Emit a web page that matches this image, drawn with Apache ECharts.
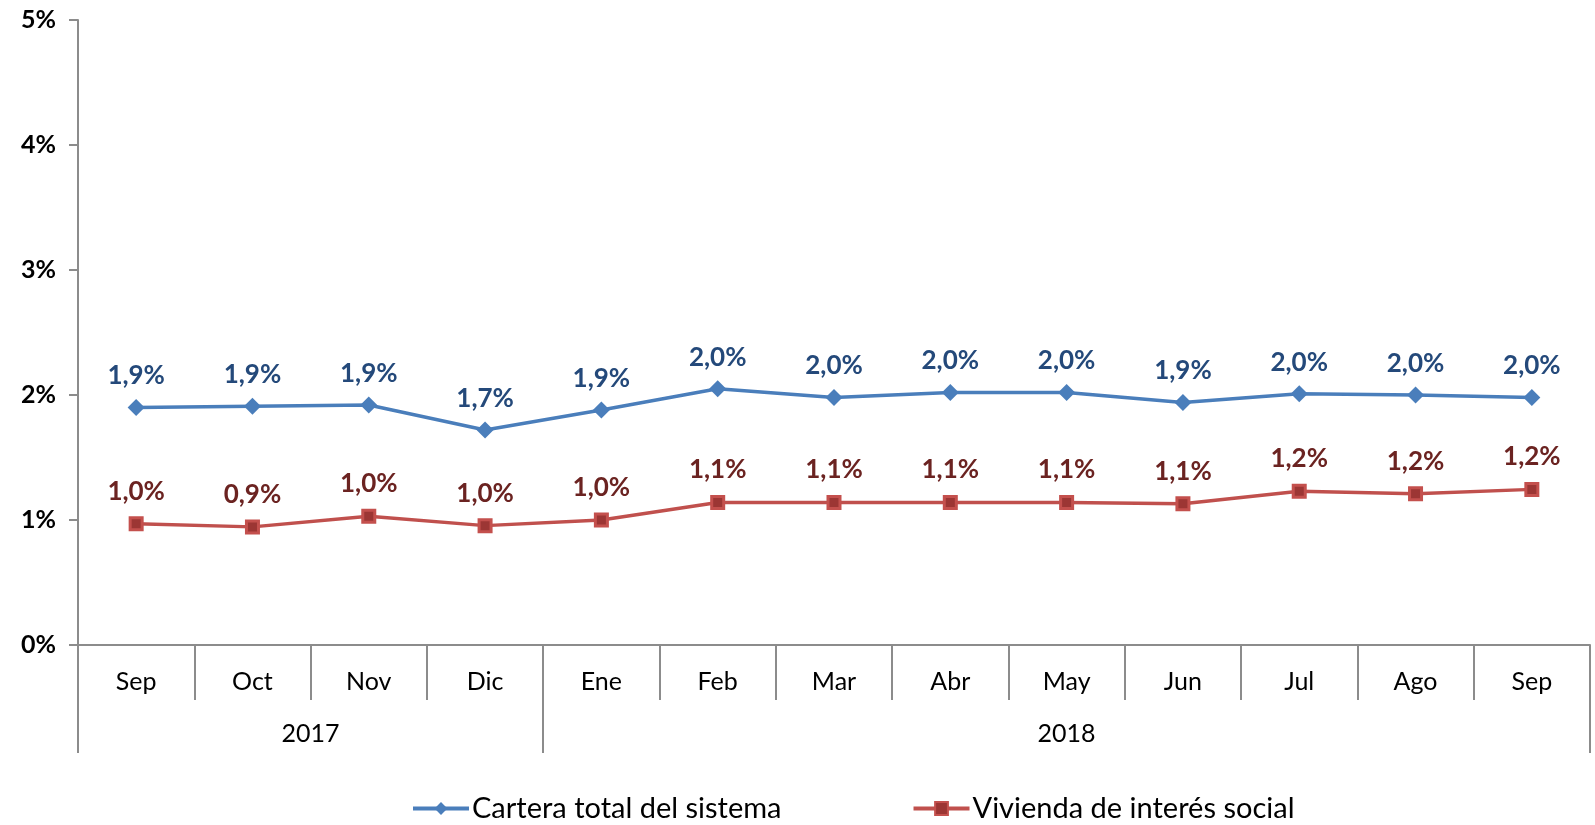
<!DOCTYPE html>
<html>
<head>
<meta charset="utf-8">
<script src="https://cdn.jsdelivr.net/npm/echarts@6/dist/echarts.min.js"></script>
<style>
  html, body { margin: 0; padding: 0; background: #fff; }
  #main { width: 1595px; height: 825px; }
</style>
</head>
<body>
<div id="main"></div>
<script>
// datos del grafico
const months = ["Sep", "Oct", "Nov", "Dic", "Ene", "Feb", "Mar", "Abr", "May", "Jun", "Jul", "Ago", "Sep"];
const years = ["2017", "2018"];
const yearSpans = [4, 9]; // meses por año
const carteraTotal = [1.90, 1.91, 1.92, 1.72, 1.88, 2.05, 1.98, 2.02, 2.02, 1.94, 2.01, 2.00, 1.98];
const viviendaSocial = [0.97, 0.945, 1.03, 0.955, 1.00, 1.14, 1.14, 1.14, 1.14, 1.13, 1.23, 1.21, 1.245];
const yTicks = [0, 1, 2, 3, 4, 5];

const FONT = "Lato";
const AXIS_GRAY = "#8c8c8c";

// eje de años: medias posiciones de mes, para centrar cada año en su grupo
let yearSlots = [];
let yearTickIdx = [0];
let yearLabelIdx = [];
let pos = 0;
for (let i = 0; i < years.length; i++) {
  yearLabelIdx.push(pos * 2 + yearSpans[i]);
  pos += yearSpans[i];
  yearTickIdx.push(pos * 2);
}
for (let i = 0; i <= pos * 2; i++) {
  let k = yearLabelIdx.indexOf(i);
  yearSlots.push(k >= 0 ? years[k] : "");
}

function pct(p) {
  return p.value.toFixed(1).replace(".", ",") + "%";
}

let chart = echarts.init(document.getElementById("main"));
let option = {
  animation: false,
  textStyle: { fontFamily: FONT },
  grid: { left: 78, right: 5, top: 20, bottom: 180 },
  legend: {
    left: 406,
    top: 789,
    itemGap: 130,
    itemWidth: 56,
    itemHeight: 16,
    lineStyle: { width: 4 },
    textStyle: { fontFamily: FONT, fontSize: 29, color: "#000", padding: [0, 0, 0, -2] },
    data: ["Cartera total del sistema", "Vivienda de interés social"]
  },
  xAxis: [
    {
      type: "category",
      data: months,
      boundaryGap: true,
      axisLine: { show: true, lineStyle: { color: AXIS_GRAY, width: 2 } },
      axisTick: { show: true, interval: 0, length: 55, lineStyle: { color: AXIS_GRAY, width: 2 } },
      axisLabel: { interval: 0, margin: 24, fontSize: 25, color: "#000", fontFamily: FONT }
    },
    {
      type: "category",
      data: yearSlots,
      boundaryGap: false,
      position: "bottom",
      axisLine: { show: false },
      axisTick: {
        show: true,
        length: 108,
        interval: (i) => yearTickIdx.indexOf(i) >= 0,
        lineStyle: { color: AXIS_GRAY, width: 2 }
      },
      axisLabel: {
        interval: (i) => yearLabelIdx.indexOf(i) >= 0,
        margin: 76,
        fontSize: 25,
        color: "#000",
        fontFamily: FONT
      }
    }
  ],
  yAxis: {
    type: "value",
    min: yTicks[0],
    max: yTicks[yTicks.length - 1],
    interval: 1,
    axisLine: { show: true, lineStyle: { color: AXIS_GRAY, width: 2 } },
    axisTick: { show: true, length: 9, lineStyle: { color: AXIS_GRAY, width: 2 } },
    splitLine: { show: false },
    axisLabel: {
      margin: 22,
      fontSize: 25,
      fontWeight: "bold",
      color: "#000",
      fontFamily: FONT,
      formatter: "{value}%"
    }
  },
  series: [
    {
      name: "Cartera total del sistema",
      type: "line",
      data: carteraTotal,
      symbol: "diamond",
      symbolSize: 17,
      lineStyle: { color: "#4a7ebb", width: 3.5 },
      itemStyle: { color: "#4a7ebb" },
      label: {
        show: true,
        position: "top",
        distance: 10,
        formatter: pct,
        fontFamily: FONT,
        fontSize: 26,
        fontWeight: "bold",
        color: "#24497a"
      }
    },
    {
      name: "Vivienda de interés social",
      type: "line",
      data: viviendaSocial,
      symbol: "rect",
      symbolSize: 12,
      lineStyle: { color: "#c0504d", width: 3.5 },
      itemStyle: { color: "#9c3634", borderColor: "#c4504d", borderWidth: 3 },
      label: {
        show: true,
        position: "top",
        distance: 12,
        formatter: pct,
        fontFamily: FONT,
        fontSize: 26,
        fontWeight: "bold",
        color: "#6b2321"
      }
    }
  ]
};
chart.setOption(option);
</script>
</body>
</html>
